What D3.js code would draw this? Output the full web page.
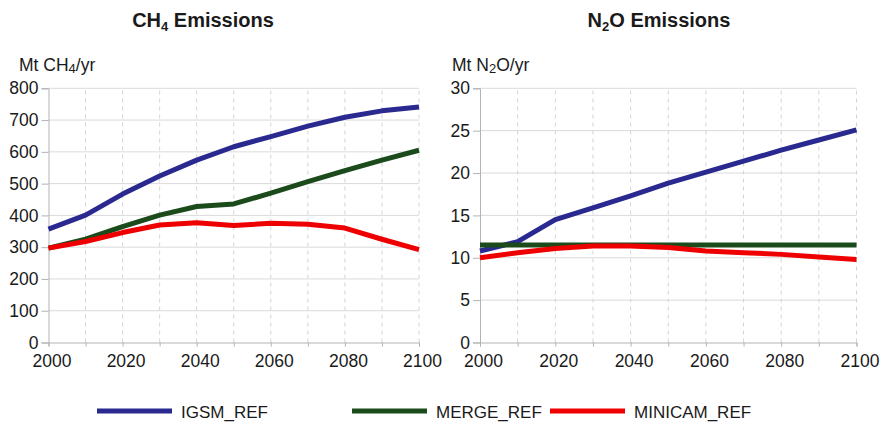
<!DOCTYPE html>
<html>
<head>
<meta charset="utf-8">
<script src="https://cdn.jsdelivr.net/npm/d3@7"></script>
<style>
  body { margin: 0; background: #fff; }
  text { font-family: "Liberation Sans", Arial, sans-serif; fill: #1a1a1a; }
</style>
</head>
<body>
<div id="chart"></div>
<script>
// data
var years = [2000, 2010, 2020, 2030, 2040, 2050, 2060, 2070, 2080, 2090, 2100];
var seriesNames = ["IGSM_REF", "MERGE_REF", "MINICAM_REF"];
var seriesColors = ["#2a2990", "#1b4a1b", "#ef0000"];

var ch4Igsm    = [357, 401, 467, 524, 574, 616, 648, 681, 709, 729, 741];
var ch4Merge   = [297, 325, 365, 401, 428, 436, 470, 506, 541, 574, 605];
var ch4Minicam = [297, 318, 346, 370, 377, 368, 375, 372, 360, 325, 292];

var n2oIgsm    = [10.8, 11.9, 14.5, 15.9, 17.3, 18.8, 20.1, 21.4, 22.7, 23.9, 25.1];
var n2oMerge   = [11.5, 11.5, 11.5, 11.5, 11.5, 11.5, 11.5, 11.5, 11.5, 11.5, 11.5];
var n2oMinicam = [10.0, 10.6, 11.1, 11.4, 11.4, 11.2, 10.8, 10.6, 10.4, 10.1, 9.8];

var ch4Ticks = [0, 100, 200, 300, 400, 500, 600, 700, 800];
var n2oTicks = [0, 5, 10, 15, 20, 25, 30];
var xTicks = [2000, 2020, 2040, 2060, 2080, 2100];

var width = 883, height = 423;

var svg = d3.select("#chart")
  .append("svg")
    .attr("width", width)
    .attr("height", height);

// draws one panel
function panel(opt) {
  var x = d3.scaleLinear().domain([2000, 2100]).range([opt.left, opt.right]);
  var y = d3.scaleLinear().domain([0, opt.max]).range([342.5, 88.3]);
  var g = svg.append("g");

  // horizontal grid
  g.selectAll(".hgrid")
    .data(opt.ticks.slice(1))
    .enter().append("line")
      .attr("x1", opt.left).attr("x2", opt.right)
      .attr("y1", function(d) { return y(d); })
      .attr("y2", function(d) { return y(d); })
      .style("stroke", "#dadada")
      .style("stroke-width", 1);

  // vertical dashed grid
  g.selectAll(".vgrid")
    .data(years.slice(1))
    .enter().append("line")
      .attr("x1", function(d) { return x(d); })
      .attr("x2", function(d) { return x(d); })
      .attr("y1", y(0)).attr("y2", y(opt.max))
      .style("stroke", "#d4d4d4")
      .style("stroke-width", 1)
      .style("stroke-dasharray", "4,4");

  // axes
  var yAxis = d3.axisLeft(y).tickValues(opt.ticks).tickSize(7).tickPadding(3);
  g.append("g")
    .attr("transform", "translate(" + opt.left + ",0)")
    .call(yAxis)
    .call(function(a) {
      a.select(".domain").style("stroke", "#b3b3b3");
      a.selectAll(".tick line").style("stroke", "#b3b3b3");
      a.selectAll(".tick text").style("font-size", "17.5px").style("fill", "#1a1a1a")
        .style("font-family", "'Liberation Sans', Arial, sans-serif");
    });

  var xAxis = d3.axisBottom(x).tickValues(years).tickSize(4).tickPadding(8)
    .tickFormat(function(d) { return xTicks.indexOf(d) >= 0 ? d : ""; });
  g.append("g")
    .attr("transform", "translate(0," + y(0) + ")")
    .call(xAxis)
    .call(function(a) {
      a.select(".domain").style("stroke", "#b3b3b3");
      a.selectAll(".tick line").style("stroke", "#b3b3b3");
      a.selectAll(".tick text").style("font-size", "17.5px").style("fill", "#1a1a1a")
        .attr("dx", 3)
        .style("font-family", "'Liberation Sans', Arial, sans-serif");
    });

  // lines
  var line = d3.line()
    .x(function(d, i) { return x(years[i]); })
    .y(function(d) { return y(d); });

  opt.series.forEach(function(s, i) {
    g.append("path")
      .datum(s)
      .attr("d", line)
      .style("fill", "none")
      .style("stroke", seriesColors[i])
      .style("stroke-width", 5)
      .style("stroke-linejoin", "round");
  });

  // title
  var t = g.append("text")
    .attr("x", opt.titleX).attr("y", 26.5)
    .attr("text-anchor", "middle")
    .style("font-size", "20px")
    .style("font-weight", "bold");
  t.append("tspan").text(opt.gas[0]);
  t.append("tspan").text(opt.gas[1]).attr("dy", 4).style("font-size", "13px");
  t.append("tspan").text(opt.gas[2] + " Emissions").attr("dy", -4);

  // unit label
  var u = g.append("text")
    .attr("x", opt.labelX).attr("y", 70.5)
    .style("font-size", "17.5px");
  u.append("tspan").text("Mt " + opt.gas[0]);
  u.append("tspan").text(opt.gas[1]).attr("dy", 2).style("font-size", "13px");
  u.append("tspan").text(opt.gas[2] + "/yr").attr("dy", -2);
}

panel({
  left: 48.5, right: 419, max: 800, ticks: ch4Ticks,
  series: [ch4Igsm, ch4Merge, ch4Minicam],
  gas: ["CH", "4", ""], titleX: 203, labelX: 19
});

panel({
  left: 480, right: 856.5, max: 30, ticks: n2oTicks,
  series: [n2oIgsm, n2oMerge, n2oMinicam],
  gas: ["N", "2", "O"], titleX: 659, labelX: 452
});

// legend
var legendX = [97, 352, 550];
var legend = svg.append("g")
  .selectAll("g")
  .data(seriesNames)
  .enter().append("g")
    .attr("transform", function(d, i) { return "translate(" + legendX[i] + ",411)"; });

legend.append("line")
  .attr("x1", 0).attr("x2", 75)
  .style("stroke", function(d, i) { return seriesColors[i]; })
  .style("stroke-width", 5);

legend.append("text")
  .attr("x", 84).attr("y", 6.5)
  .style("font-size", "17px")
  .text(function(d) { return d; });
</script>
</body>
</html>
